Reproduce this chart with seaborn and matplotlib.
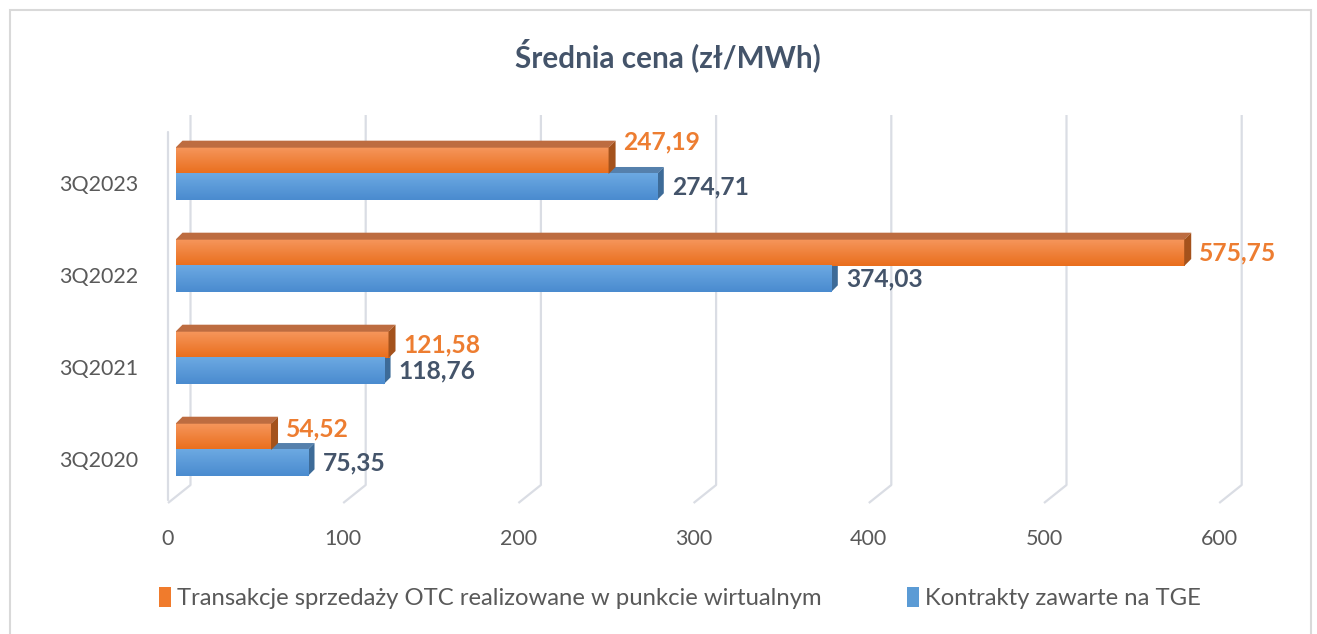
import numpy as np
import pandas as pd
import matplotlib
matplotlib.use("Agg")
import matplotlib.pyplot as plt
import seaborn as sns
from matplotlib.patches import Polygon, Patch, Rectangle
from matplotlib.colors import LinearSegmentedColormap
from matplotlib.transforms import ScaledTranslation

# ---------------- data ----------------
categories = ["3Q2023", "3Q2022", "3Q2021", "3Q2020"]
series_names = ["Transakcje sprzedaży OTC realizowane w punkcie wirtualnym",
                "Kontrakty zawarte na TGE"]
otc_values = [247.19, 575.75, 121.58, 54.52]
tge_values = [274.71, 374.03, 118.76, 75.35]
x_ticks = [0, 100, 200, 300, 400, 500, 600]
x_tick_labels = ["0", "100", "200", "300", "400", "500", "600"]
title = "Średnia cena (zł/MWh)"

# ---------------- style ----------------
sns.set_theme(style="white")
plt.rcParams["font.family"] = ["Lato", "DejaVu Sans"]

ORANGE = "#F07B2C"
BLUE = "#5B9BD5"
series_cols = [ORANGE, BLUE]
front_grad = {ORANGE: ("#F6965C", "#E96E1C"), BLUE: ("#6CA9E2", "#4A8BCF")}
top_col = {ORANGE: "#BD6C40", BLUE: "#5580AC"}
side_col = {ORANGE: "#A4521C", BLUE: "#3D6B98"}
label_col = {ORANGE: "#ED7D31", BLUE: "#44546A"}
GRID = "#DADDE4"
TXT = "#595959"

W, H, DPI = 1317, 634, 100
fig = plt.figure(figsize=(W / DPI, H / DPI), dpi=DPI)
fig.patch.set_facecolor("white")

# axes in pixel layout (bar plane)
ax_l, ax_r, ax_t, ax_b = 175.5, 1226.7, 130, 500
ax = fig.add_axes([ax_l / W, 1 - ax_b / H, (ax_r - ax_l) / W, (ax_b - ax_t) / H])

df = pd.DataFrame({
    "kw": categories * 2,
    "val": otc_values + tge_values,
    "series": [series_names[0]] * len(categories) + [series_names[1]] * len(categories),
})
sns.barplot(data=df, y="kw", x="val", hue="series", orient="h",
            order=categories, hue_order=series_names,
            palette=series_cols, saturation=1, width=0.572, linewidth=0,
            legend=False, ax=ax, zorder=3)

xmin, xmax = 0, 600
ytop, ybot = -0.478, 3.543
ax.set_xlim(xmin, xmax)
ax.set_ylim(ybot, ytop)

ux = (xmax - xmin) / (ax_r - ax_l)      # data per px (x)
uy = (ybot - ytop) / (ax_b - ax_t)      # data per px (y, downward positive)

for s in ax.spines.values():
    s.set_visible(False)
ax.set_xlabel("")
ax.set_ylabel("")
ax.grid(False)

# ---------- gridlines in 3D-like perspective ----------
BX, BY = 15, 15     # back plane offset (px right, px up)
for v in x_ticks:
    xs = [v + BX * ux, v + BX * ux, v - 7.5 * ux]
    ys = [ytop - BY * uy, ybot - BY * uy, ybot + 3 * uy]
    ax.plot(xs, ys, color=GRID, lw=1.6, zorder=1, clip_on=False, solid_capstyle="butt")
# left wall front edge
ax.plot([xmin - 7.5 * ux, xmin - 7.5 * ux], [ytop + 2 * uy, ybot], color=GRID, lw=1.6,
        zorder=1, clip_on=False)

# ---------- 3D bars ----------
DX, DY = 7, 7
bars = []  # (patch, colour, partner_patch)
cont = ax.containers
for k, col in enumerate(series_cols):
    other = cont[1 - k]
    for j, p in enumerate(cont[k]):
        bars.append((p, col, other[j]))

for p, col, _ in bars:
    x0, y0, w, h = p.get_x(), p.get_y(), p.get_width(), p.get_height()
    x1 = x0 + w
    yt, yb = y0, y0 + h  # yt is top on screen (inverted axis)
    z = 2.0 if col == BLUE else 3.5
    top = Polygon([(x0, yt), (x1, yt), (x1 + DX * ux, yt - DY * uy), (x0 + DX * ux, yt - DY * uy)],
                  closed=True, facecolor=top_col[col], edgecolor="none", zorder=z)
    side = Polygon([(x1, yt), (x1 + DX * ux, yt - DY * uy), (x1 + DX * ux, yb - DY * uy), (x1, yb)],
                   closed=True, facecolor=side_col[col], edgecolor="none", zorder=z)
    ax.add_patch(top)
    ax.add_patch(side)
    cmap = LinearSegmentedColormap.from_list("g", list(front_grad[col]))
    grad = np.linspace(0, 1, 64).reshape(-1, 1)
    ax.imshow(grad, cmap=cmap, extent=[x0, x1, yb, yt], origin="upper",
              aspect="auto", zorder=3, interpolation="bilinear")

ax.set_xlim(xmin, xmax)
ax.set_ylim(ybot, ytop)

# ---------- data labels ----------
for p, col, partner in bars:
    x1 = p.get_x() + p.get_width()
    yc = p.get_y() + p.get_height() / 2
    val = p.get_width()
    shift = 0
    if col == ORANGE and partner.get_width() > val:
        diff_px = (partner.get_width() - val) / ux
        shift = -19 if diff_px > 40 else -8
    ax.text(x1 + (DX + 8) * ux, yc + shift * uy, f"{val:.2f}".replace(".", ","),
            color=label_col[col], fontsize=17.7, fontweight="bold",
            va="center", ha="left", zorder=6, clip_on=False)

# ---------- ticks ----------
ax.set_xticks(x_ticks, x_tick_labels)
ax.tick_params(axis="x", length=0, pad=21, labelsize=15.5, labelcolor=TXT)
ax.tick_params(axis="y", length=0, pad=27, labelsize=15.5, labelcolor=TXT)
for lab in ax.get_xticklabels():
    lab.set_transform(lab.get_transform() + ScaledTranslation(-7.5 / DPI, 0, fig.dpi_scale_trans))
for lab in ax.get_yticklabels():
    lab.set_transform(lab.get_transform() + ScaledTranslation(0, -9 / DPI, fig.dpi_scale_trans))

# ---------- title ----------
fig.text(668 / W, 1 - 55 / H, title, ha="center", va="center",
         fontsize=21.4, fontweight="bold", color="#44546A")

# ---------- legend ----------
handles = [Patch(facecolor=ORANGE, edgecolor="none"), Patch(facecolor=BLUE, edgecolor="none")]
leg = fig.legend(handles, series_names, loc="center", bbox_to_anchor=(680 / W, 1 - 598 / H),
                 ncol=2, frameon=False, fontsize=17.2, handlelength=0.5, handleheight=0.9,
                 handletextpad=0.25, columnspacing=3.6, labelcolor=TXT)

# ---------- outer frame ----------
fig.add_artist(Rectangle((10 / W, -0.05), 1301 / W, 1 - 10 / H + 0.05, transform=fig.transFigure,
                         facecolor="none", edgecolor="#D9D9D9", lw=1.5, zorder=0))

fig.savefig("out.png", dpi=DPI)
